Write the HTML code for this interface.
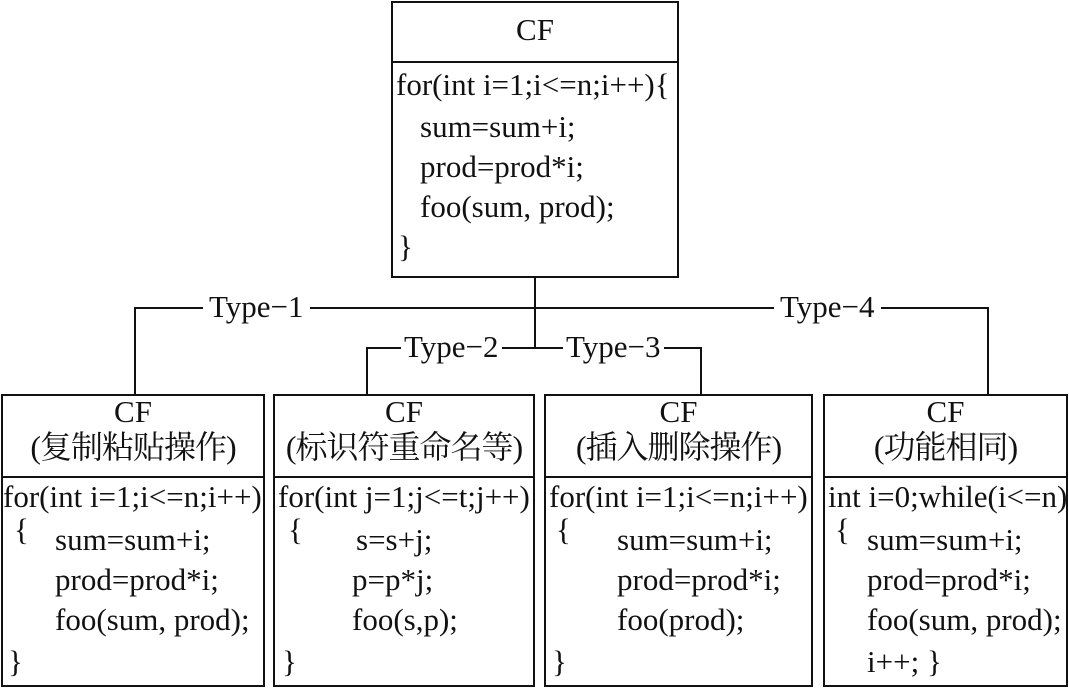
<!DOCTYPE html>
<html><head><meta charset="utf-8"><style>
body{margin:0;background:#fff;}
#c{position:relative;width:1069px;height:688px;overflow:hidden;background:#fff;font-family:"Liberation Serif","Noto Serif CJK SC",serif;font-size:31px;color:#111;}
.b{position:absolute;border:2px solid #111;box-sizing:border-box;}
.l{position:absolute;background:#111;}
.t{position:absolute;white-space:nowrap;line-height:40px;}
.c{text-align:center;}
.z{font-size:32px;letter-spacing:-1px;}
.lab{position:absolute;white-space:nowrap;line-height:40px;background:#fff;padding:0 6px;font-size:31px;}
</style></head><body><div id="c">
<!-- top box -->
<div class="b" style="left:391px;top:1px;width:288px;height:277px;"></div>
<div class="l" style="left:391px;top:61px;width:288px;height:2px;"></div>
<div class="t c" style="left:391px;top:10px;width:288px;">CF</div>
<div class="t" style="left:396px;top:65px;">for(int i=1;i&lt;=n;i++){</div>
<div class="t" style="left:420px;top:107px;">sum=sum+i;</div>
<div class="t" style="left:420px;top:147px;">prod=prod*i;</div>
<div class="t" style="left:420px;top:187px;">foo(sum, prod);</div>
<div class="t" style="left:398px;top:227px;">}</div>

<!-- connectors -->
<div class="l" style="left:534px;top:277px;width:2px;height:72px;"></div>
<div class="l" style="left:134px;top:307px;width:855px;height:2px;"></div>
<div class="l" style="left:366px;top:347px;width:336px;height:2px;"></div>
<div class="l" style="left:134px;top:307px;width:2px;height:88px;"></div>
<div class="l" style="left:987px;top:307px;width:2px;height:88px;"></div>
<div class="l" style="left:366px;top:347px;width:2px;height:48px;"></div>
<div class="l" style="left:700px;top:347px;width:2px;height:48px;"></div>
<div class="lab" style="left:203px;top:287px;">Type−1</div>
<div class="lab" style="left:774px;top:287px;">Type−4</div>
<div class="lab" style="left:401px;top:327px;padding:0 3px;">Type−2</div>
<div class="lab" style="left:563px;top:327px;padding:0 3px;">Type−3</div>

<!-- box1 -->
<div class="b" style="left:1px;top:394px;width:264px;height:293px;"></div>
<div class="l" style="left:1px;top:476px;width:264px;height:2px;"></div>
<div class="t c" style="left:1px;top:392px;width:264px;">CF</div>
<div class="t c z" style="left:1px;top:427px;width:264px;">(复制粘贴操作)</div>
<div class="t" style="left:3px;top:477px;">for(int i=1;i&lt;=n;i++)</div>
<div class="t" style="left:14px;top:510px;">{</div>
<div class="t" style="left:55px;top:520px;">sum=sum+i;</div>
<div class="t" style="left:55px;top:560px;">prod=prod*i;</div>
<div class="t" style="left:55px;top:600px;">foo(sum, prod);</div>
<div class="t" style="left:8px;top:642px;">}</div>

<!-- box2 -->
<div class="b" style="left:273px;top:394px;width:262px;height:293px;"></div>
<div class="l" style="left:273px;top:476px;width:262px;height:2px;"></div>
<div class="t c" style="left:273px;top:392px;width:262px;">CF</div>
<div class="t c z" style="left:273px;top:427px;width:262px;">(标识符重命名等)</div>
<div class="t" style="left:278px;top:477px;">for(int j=1;j&lt;=t;j++)</div>
<div class="t" style="left:288px;top:510px;">{</div>
<div class="t" style="left:356px;top:520px;">s=s+j;</div>
<div class="t" style="left:352px;top:560px;">p=p*j;</div>
<div class="t" style="left:352px;top:600px;">foo(s,p);</div>
<div class="t" style="left:282px;top:642px;">}</div>

<!-- box3 -->
<div class="b" style="left:544px;top:394px;width:269px;height:293px;"></div>
<div class="l" style="left:544px;top:476px;width:269px;height:2px;"></div>
<div class="t c" style="left:544px;top:392px;width:269px;">CF</div>
<div class="t c z" style="left:544px;top:427px;width:269px;">(插入删除操作)</div>
<div class="t" style="left:549px;top:477px;">for(int i=1;i&lt;=n;i++)</div>
<div class="t" style="left:556px;top:510px;">{</div>
<div class="t" style="left:617px;top:520px;">sum=sum+i;</div>
<div class="t" style="left:617px;top:560px;">prod=prod*i;</div>
<div class="t" style="left:617px;top:600px;">foo(prod);</div>
<div class="t" style="left:552px;top:642px;">}</div>

<!-- box4 -->
<div class="b" style="left:823px;top:394px;width:245px;height:293px;"></div>
<div class="l" style="left:823px;top:476px;width:245px;height:2px;"></div>
<div class="t c" style="left:823px;top:392px;width:245px;">CF</div>
<div class="t c z" style="left:823px;top:427px;width:245px;">(功能相同)</div>
<div class="t" style="left:828px;top:477px;">int i=0;while(i&lt;=n)</div>
<div class="t" style="left:835px;top:510px;">{</div>
<div class="t" style="left:867px;top:520px;">sum=sum+i;</div>
<div class="t" style="left:867px;top:560px;">prod=prod*i;</div>
<div class="t" style="left:867px;top:600px;">foo(sum, prod);</div>
<div class="t" style="left:867px;top:642px;">i++; }</div>
</div></body></html>
